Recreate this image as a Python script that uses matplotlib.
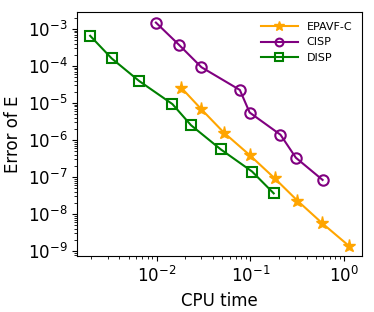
import numpy as np
import matplotlib
matplotlib.use('Agg')
import matplotlib.pyplot as plt

# data
epavf_t = [0.0182, 0.030, 0.052, 0.098, 0.181, 0.316, 0.583, 1.12]
epavf_e = [2.6e-5, 6.7e-6, 1.58e-6, 3.9e-7, 9.2e-8, 2.3e-8, 5.6e-9, 1.38e-9]

cisp_t = [0.0098, 0.0173, 0.030, 0.077, 0.098, 0.209, 0.305, 0.588]
cisp_e = [1.48e-3, 3.7e-4, 9.2e-5, 2.24e-5, 5.5e-6, 1.38e-6, 3.3e-7, 8.3e-8]

disp_t = [0.00195, 0.0033, 0.0065, 0.0147, 0.0232, 0.048, 0.104, 0.177]
disp_e = [6.5e-4, 1.6e-4, 3.9e-5, 9.3e-6, 2.5e-6, 5.6e-7, 1.4e-7, 3.6e-8]


def main():
    fig = plt.figure(figsize=(3.74, 3.12), dpi=100)
    ax = fig.add_axes([0.206, 0.179, 0.762, 0.783])

    ax.loglog(epavf_t, epavf_e, '-*', color='orange', markersize=9.5, lw=1.5, label='EPAVF-C')
    ax.loglog(cisp_t, cisp_e, '-o', color='purple', markersize=7.5, lw=1.5,
              markerfacecolor='none', markeredgewidth=1.5, label='CISP')
    ax.loglog(disp_t, disp_e, '-s', color='green', markersize=7.5, lw=1.5,
              markerfacecolor='none', markeredgewidth=1.5, label='DISP')

    ax.set_xlim(10 ** -2.85, 10 ** 0.19)
    ax.set_ylim(10 ** -9.14, 10 ** -2.54)
    ax.set_yticks([10.0 ** k for k in range(-9, -2)])
    ax.set_xticks([1e-2, 1e-1, 1e0])

    ax.tick_params(labelsize=12)
    ax.set_xlabel('CPU time', fontsize=12)
    ax.set_ylabel('Error of E', fontsize=12)

    ax.legend(loc='upper right', fontsize=8, frameon=False, handlelength=3.3,
              markerscale=0.75)

    fig.savefig('out.png', dpi=100)


if __name__ == '__main__':
    main()
